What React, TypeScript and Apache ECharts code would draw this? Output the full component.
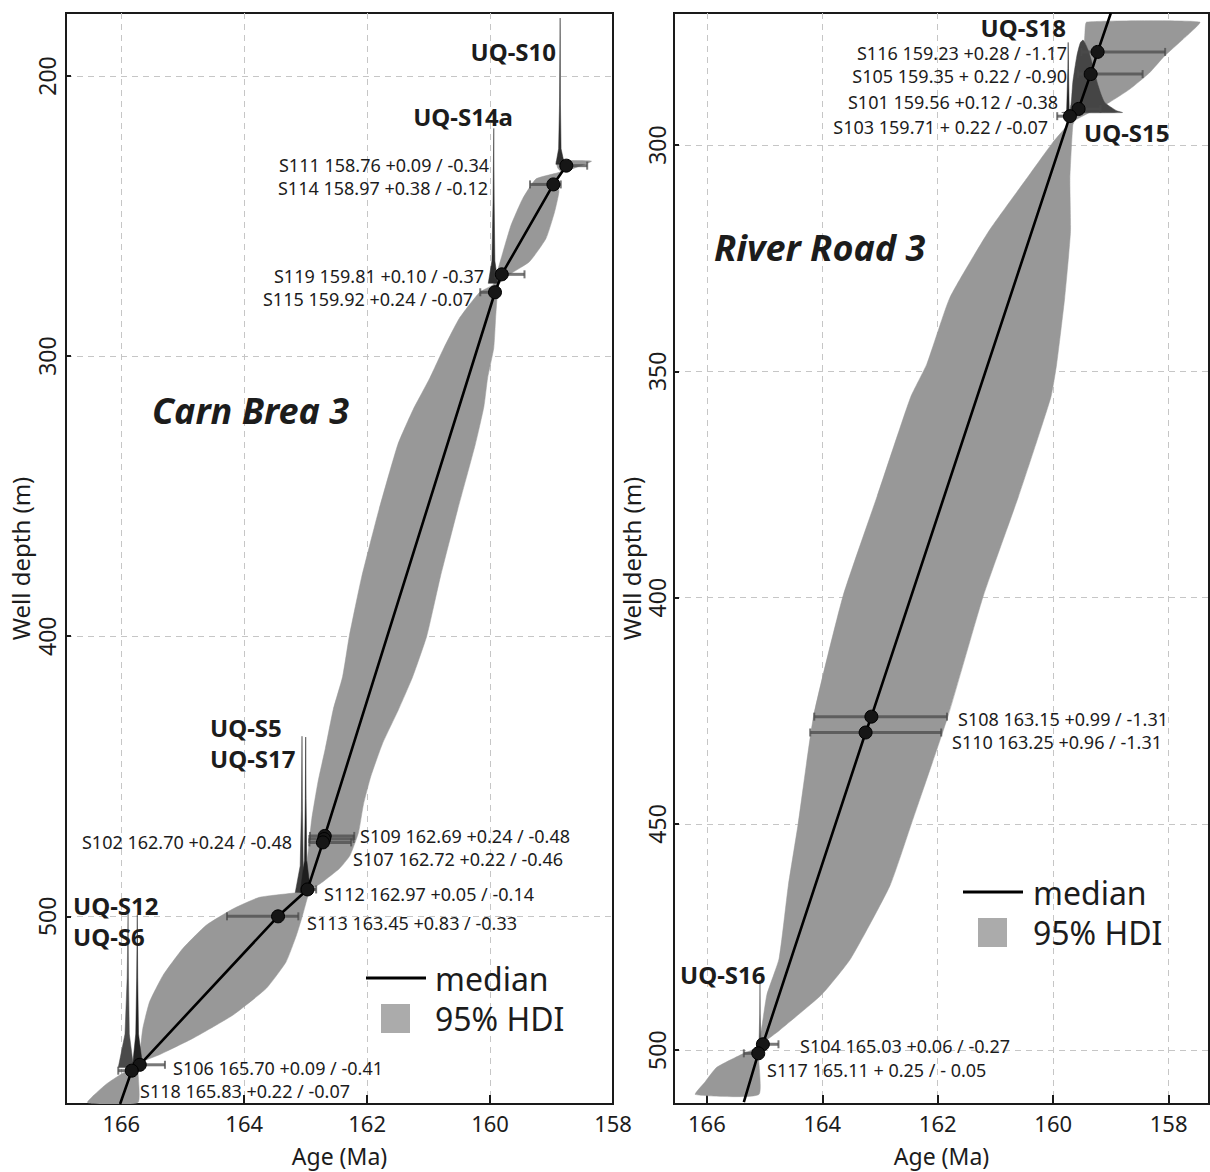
import React, { useEffect, useRef } from 'react';
import * as echarts from 'echarts';

const FONT = '"Noto Sans", "Open Sans", sans-serif';
const TEXT = '#1c1c1c';

// ---------------- Carn Brea 3 ----------------
const cbSampleAge = [158.76, 158.97, 159.81, 159.92, 162.69, 162.70, 162.72, 162.97, 163.45, 165.70, 165.83];
const cbSamplePlus = [0.09, 0.38, 0.10, 0.24, 0.24, 0.24, 0.22, 0.05, 0.83, 0.09, 0.22];
const cbSampleMinus = [0.34, 0.12, 0.37, 0.07, 0.48, 0.48, 0.46, 0.14, 0.33, 0.41, 0.07];
const cbSampleDepth = [232.0, 238.7, 270.8, 277.2, 471.3, 472.4, 473.6, 490.4, 500.0, 553.0, 555.1];

const cbMedian = [
  [158.76, 232.0], [158.97, 238.7], [159.81, 270.8], [159.92, 277.2], [162.69, 471.3], [162.72, 473.6],
  [162.97, 490.4], [163.45, 500.0], [165.70, 553.0], [165.83, 555.1], [166.02, 567.0],
];

// young (right) edge of the 95% HDI, top to bottom
const cbHdiYoung = [
  [158.35, 230.4], [158.62, 232.8], [158.80, 234.2], [158.90, 236.0], [158.88, 241.4], [158.95, 248.5],
  [159.09, 258.0], [159.36, 266.3], [159.74, 271.6], [159.86, 274.5], [159.88, 277.2], [159.91, 286.5],
  [159.94, 297.1], [160.04, 307.8], [160.10, 318.0], [160.24, 331.5], [160.53, 355.0], [160.81, 378.9],
  [161.03, 399.9], [161.26, 414.5], [161.49, 426.2], [161.75, 438.3], [161.94, 450.0], [162.06, 460.0],
  [162.14, 470.0], [162.28, 478.3], [162.45, 482.9], [162.73, 487.8], [162.90, 490.3], [162.96, 492.5],
  [163.05, 499.6], [163.15, 506.7], [163.32, 516.3], [163.64, 525.7], [164.18, 535.2], [164.83, 543.5],
  [165.38, 549.4], [165.65, 551.8], [165.72, 553.5], [165.73, 554.8], [165.73, 566.5],
];
// old (left) edge of the 95% HDI, top to bottom
const cbHdiOld = [
  [158.92, 230.4], [158.90, 232.8], [158.85, 234.2], [159.25, 236.7], [159.47, 243.8], [159.66, 253.3],
  [159.79, 262.8], [159.90, 271.1], [159.95, 274.5], [160.17, 277.2], [160.50, 286.5], [160.75, 297.0],
  [160.98, 307.8], [161.25, 319.0], [161.50, 331.5], [161.81, 355.0], [162.09, 378.9], [162.29, 399.9],
  [162.40, 414.5], [162.55, 426.0], [162.68, 440.0], [162.80, 452.0], [162.90, 465.0], [162.95, 475.0],
  [163.00, 485.0], [163.05, 490.5], [163.10, 491.4], [163.75, 493.2], [164.18, 497.3], [164.62, 503.2],
  [165.00, 511.5], [165.32, 521.0], [165.54, 530.5], [165.65, 540.0], [165.70, 549.4], [165.73, 553.5],
  [165.99, 556.2], [166.25, 560.0], [166.55, 566.5],
];

// sample age densities (dark spikes)
const cbDensityS10 = [[158.93, 231.5], [158.885, 226], [158.87, 210], [158.86, 179.3], [158.855, 210], [158.845, 226], [158.79, 231.5]];
const cbDensityS14a = [[160.03, 274], [159.97, 266], [159.952, 245], [159.94, 218.7], [159.933, 245], [159.922, 266], [159.87, 274]];
const cbDensityS5 = [[163.17, 491.5], [163.09, 482], [163.07, 462], [163.06, 435.7], [163.053, 462], [163.04, 482], [162.98, 491.5]];
const cbDensityS17 = [[163.09, 491.5], [163.02, 480], [163.006, 458], [163.0, 436], [162.994, 458], [162.983, 480], [162.92, 491.5]];
const cbDensityS12 = [[166.05, 554], [165.94, 542], [165.905, 522], [165.89, 499], [165.883, 522], [165.87, 542], [165.8, 554]];
const cbDensityS6 = [[165.82, 554], [165.765, 542], [165.75, 522], [165.74, 499.5], [165.733, 522], [165.72, 542], [165.65, 554]];

// ---------------- River Road 3 ----------------
const rrSampleAge = [159.23, 159.35, 159.56, 159.71, 163.15, 163.25, 165.03, 165.11];
const rrSamplePlus = [0.28, 0.22, 0.12, 0.22, 0.99, 0.96, 0.06, 0.25];
const rrSampleMinus = [1.17, 0.90, 0.38, 0.07, 1.31, 1.31, 0.27, 0.05];
const rrSampleDepth = [279.4, 284.3, 292.0, 293.6, 426.3, 429.8, 498.7, 500.7];

const rrMedian = [
  [159.0, 270.8], [159.23, 279.4], [159.35, 284.3], [159.56, 292.0], [159.71, 293.6], [163.15, 426.3],
  [163.25, 429.8], [165.03, 498.7], [165.11, 500.7], [165.36, 511.5],
];

const rrHdiYoung = [
  [157.46, 272.8], [157.75, 276.6], [158.07, 280.3], [158.33, 284.0], [158.67, 287.6], [159.02, 290.5],
  [159.31, 292.4], [159.62, 294.5], [159.66, 295.6], [159.71, 307.4], [159.70, 319.1], [159.80, 333.7],
  [159.94, 348.4], [160.04, 355.7], [160.60, 377.6], [161.21, 399.6], [161.82, 426.1], [162.46, 450.1],
  [162.83, 463.7], [163.51, 479.8], [164.01, 487.7], [164.75, 495.7], [165.10, 499.5], [165.10, 509.8],
];
const rrHdiOld = [
  [159.42, 272.8], [159.45, 275.2], [159.48, 282.5], [159.54, 289.1], [159.66, 292.7], [159.71, 294.9],
  [160.00, 299.3], [160.46, 307.4], [161.12, 319.1], [161.79, 333.7], [162.19, 348.4], [162.47, 355.7],
  [163.05, 377.6], [163.64, 399.6], [164.15, 426.1], [164.42, 450.1], [164.59, 463.7], [164.75, 479.8],
  [164.96, 487.7], [165.06, 495.7], [165.15, 499.5], [165.36, 500.7], [165.83, 503.8], [166.03, 507.0],
  [166.20, 509.8],
];

const rrDensityS18 = [
  [159.85, 292.8], [159.71, 292.4], [159.66, 286.1], [159.59, 280.3], [159.53, 277.4], [159.48, 276.8],
  [159.40, 278.8], [159.31, 282.5], [159.22, 286.9], [159.11, 290.5], [158.90, 292.4], [158.80, 292.8],
];
const rrDensityS15 = [[159.77, 293.8], [159.745, 283], [159.74, 277.3], [159.735, 283], [159.72, 293.8]];
const rrDensityS16 = [[165.10, 500.5], [165.085, 492], [165.08, 484.5], [165.075, 492], [165.06, 500.5]];

// ---------------- annotations ----------------
const cbNotes = [
  { t: 'UQ-S10', x: 556, y: 51, a: 'right', k: 'tag' },
  { t: 'UQ-S14a', x: 513, y: 116, a: 'right', k: 'tag' },
  { t: 'S111 158.76 +0.09 / -0.34', x: 489, y: 165, a: 'right', k: 's' },
  { t: 'S114 158.97 +0.38 / -0.12', x: 488, y: 187.5, a: 'right', k: 's' },
  { t: 'S119 159.81 +0.10 / -0.37', x: 484, y: 276, a: 'right', k: 's' },
  { t: 'S115 159.92 +0.24 / -0.07', x: 473, y: 299, a: 'right', k: 's' },
  { t: 'Carn Brea 3', x: 152, y: 410, a: 'left', k: 'title' },
  { t: 'UQ-S5', x: 210, y: 727, a: 'left', k: 'tag' },
  { t: 'UQ-S17', x: 210, y: 758, a: 'left', k: 'tag' },
  { t: 'S102 162.70 +0.24 / -0.48', x: 292, y: 842, a: 'right', k: 's' },
  { t: 'S109 162.69 +0.24 / -0.48', x: 360, y: 836, a: 'left', k: 's' },
  { t: 'S107 162.72 +0.22 / -0.46', x: 353, y: 858.5, a: 'left', k: 's' },
  { t: 'S112 162.97 +0.05 / -0.14', x: 324, y: 894, a: 'left', k: 's' },
  { t: 'S113 163.45 +0.83 / -0.33', x: 307, y: 922.5, a: 'left', k: 's' },
  { t: 'UQ-S12', x: 73, y: 905, a: 'left', k: 'tag' },
  { t: 'UQ-S6', x: 73, y: 936, a: 'left', k: 'tag' },
  { t: 'S106 165.70 +0.09 / -0.41', x: 173, y: 1068, a: 'left', k: 's' },
  { t: 'S118 165.83 +0.22 / -0.07', x: 140, y: 1090.5, a: 'left', k: 's' },
];
const rrNotes = [
  { t: 'UQ-S18', x: 1066, y: 27, a: 'right', k: 'tag' },
  { t: 'S116 159.23 +0.28 / -1.17', x: 1067, y: 53, a: 'right', k: 's' },
  { t: 'S105 159.35 + 0.22 / -0.90', x: 1067, y: 75.5, a: 'right', k: 's' },
  { t: 'S101 159.56 +0.12 / -0.38', x: 1058, y: 102, a: 'right', k: 's' },
  { t: 'S103 159.71 + 0.22 / -0.07', x: 1048, y: 127, a: 'right', k: 's' },
  { t: 'UQ-S15', x: 1084, y: 132, a: 'left', k: 'tag' },
  { t: 'River Road 3', x: 714, y: 247, a: 'left', k: 'title' },
  { t: 'S108 163.15 +0.99 / -1.31', x: 958, y: 719, a: 'left', k: 's' },
  { t: 'S110 163.25 +0.96 / -1.31', x: 952, y: 741.5, a: 'left', k: 's' },
  { t: 'UQ-S16', x: 680, y: 974, a: 'left', k: 'tag' },
  { t: 'S104 165.03 +0.06 / -0.27', x: 800, y: 1046, a: 'left', k: 's' },
  { t: 'S117 165.11 + 0.25 / - 0.05', x: 767, y: 1070, a: 'left', k: 's' },
];
const legendSpots = [
  { lineX: 366, lineY: 978, patchX: 381, patchY: 1004, textX: 435 },
  { lineX: 963, lineY: 892, patchX: 978, patchY: 918, textX: 1033 },
];

const FONTS: Record<string, string> = {
  tag: `bold 24px ${FONT}`,
  s: `18px ${FONT}`,
  title: `italic bold 36px ${FONT}`,
};

function polygonSeries(gi: number, pts: number[][], color: string, z: number, smooth = 0) {
  return {
    type: 'custom',
    xAxisIndex: gi,
    yAxisIndex: gi,
    silent: true,
    clip: true,
    z,
    data: [0],
    renderItem: (_p: any, api: any) => ({
      type: 'polygon',
      shape: { points: pts.map((p) => api.coord(p)), smooth },
      style: { fill: color, stroke: color, lineWidth: 0.5 },
    }),
  };
}

function bandSeries(gi: number, young: number[][], old: number[][]) {
  return polygonSeries(gi, [...young, ...old.slice().reverse()], '#989898', 1, 0.15);
}

function errorBarSeries(gi: number, ages: number[], plus: number[], minus: number[], depths: number[]) {
  const data = ages.map((a, i) => [a + plus[i], a - minus[i], depths[i]]);
  const col = 'rgba(75,75,75,0.75)';
  return {
    type: 'custom',
    xAxisIndex: gi,
    yAxisIndex: gi,
    silent: true,
    z: 4,
    data,
    encode: { x: [0, 1], y: 2 },
    renderItem: (_p: any, api: any) => {
      const a = api.coord([api.value(0), api.value(2)]);
      const b = api.coord([api.value(1), api.value(2)]);
      const c = 4;
      return {
        type: 'group',
        children: [
          { type: 'line', shape: { x1: a[0], y1: a[1], x2: b[0], y2: b[1] }, style: { stroke: col, lineWidth: 3 } },
          { type: 'line', shape: { x1: a[0], y1: a[1] - c, x2: a[0], y2: a[1] + c }, style: { stroke: col, lineWidth: 2 } },
          { type: 'line', shape: { x1: b[0], y1: b[1] - c, x2: b[0], y2: b[1] + c }, style: { stroke: col, lineWidth: 2 } },
        ],
      };
    },
  };
}

const splitLine = { show: true, showMinLine: false, showMaxLine: false, lineStyle: { color: '#c6c6c6', type: [6, 5], width: 1 } };

function xAxis(gi: number, extra: any) {
  return {
    gridIndex: gi,
    type: 'value',
    inverse: true,
    name: 'Age (Ma)',
    nameLocation: 'middle',
    nameGap: 40,
    nameTextStyle: { fontSize: 23, color: TEXT, fontFamily: FONT },
    axisLine: { show: true, onZero: false, lineStyle: { color: '#1a1a1a', width: 2 } },
    axisTick: { show: true, inside: true, length: 9, lineStyle: { color: '#1a1a1a', width: 2 } },
    splitLine,
    ...extra,
  };
}

function yAxis(gi: number, extra: any) {
  return {
    gridIndex: gi,
    type: 'value',
    inverse: true,
    name: 'Well depth (m)',
    nameLocation: 'middle',
    nameRotate: 90,
    nameGap: 34,
    nameTextStyle: { fontSize: 24, color: TEXT, fontFamily: FONT },
    axisLine: { show: true, onZero: false, lineStyle: { color: '#1a1a1a', width: 2 } },
    axisTick: { show: true, inside: true, length: 5, lineStyle: { color: '#1a1a1a', width: 2 } },
    splitLine,
    ...extra,
  };
}

function noteGraphics() {
  const out: any[] = [];
  [...cbNotes, ...rrNotes].forEach((n) => {
    out.push({
      type: 'text',
      x: n.x,
      y: n.y,
      z: 100,
      style: { text: n.t, font: FONTS[n.k], fill: TEXT, textAlign: n.a, textVerticalAlign: 'middle' },
    });
  });
  legendSpots.forEach((l) => {
    out.push({ type: 'line', z: 100, shape: { x1: l.lineX, y1: l.lineY, x2: l.lineX + 60, y2: l.lineY }, style: { stroke: '#000', lineWidth: 3 } });
    out.push({ type: 'text', z: 100, x: l.textX, y: l.lineY, style: { text: 'median', font: `32px ${FONT}`, fill: TEXT, textAlign: 'left', textVerticalAlign: 'middle' } });
    out.push({ type: 'rect', z: 100, shape: { x: l.patchX, y: l.patchY, width: 29, height: 29 }, style: { fill: '#ababab' } });
    out.push({ type: 'text', z: 100, x: l.textX, y: l.patchY + 14, style: { text: '95% HDI', font: `32px ${FONT}`, fill: TEXT, textAlign: 'left', textVerticalAlign: 'middle' } });
  });
  return out;
}

function medianSeries(gi: number, pts: number[][]) {
  return {
    type: 'line',
    xAxisIndex: gi,
    yAxisIndex: gi,
    data: pts,
    showSymbol: false,
    silent: true,
    clip: true,
    z: 3,
    lineStyle: { color: '#000', width: 2.6 },
  };
}

function dotSeries(gi: number, ages: number[], depths: number[]) {
  return {
    type: 'scatter',
    xAxisIndex: gi,
    yAxisIndex: gi,
    data: ages.map((a, i) => [a, depths[i]]),
    symbolSize: 13,
    silent: true,
    z: 5,
    itemStyle: { color: '#161616', borderColor: '#000', borderWidth: 1, opacity: 1 },
  };
}

export default function App() {
  const ref = useRef<HTMLDivElement>(null);
  useEffect(() => {
    if (!ref.current) return;
    const chart = echarts.init(ref.current, null, { renderer: 'svg' });
    const labelCommon = { fontSize: 22, color: TEXT, fontFamily: FONT };
    chart.setOption({
      animation: false,
      backgroundColor: '#fff',
      grid: [
        { left: 66, top: 13, width: 547, height: 1097, show: true, borderColor: '#1a1a1a', borderWidth: 2, backgroundColor: 'transparent' },
        { left: 674, top: 13, width: 535, height: 1098, show: true, borderColor: '#1a1a1a', borderWidth: 2, backgroundColor: 'transparent' },
      ],
      xAxis: [
        xAxis(0, { min: 158, max: 166.9, interval: 2, axisLabel: { ...labelCommon, margin: 8, showMaxLabel: false } }),
        xAxis(1, { min: 157.3, max: 166.57, splitNumber: 5, axisLabel: { ...labelCommon, margin: 8, showMinLabel: false, showMaxLabel: false } }),
      ],
      yAxis: [
        yAxis(0, { min: 177.5, max: 567, splitNumber: 4, axisLabel: { ...labelCommon, fontSize: 23, rotate: 90, margin: 8, showMinLabel: false, showMaxLabel: false } }),
        yAxis(1, { min: 270.8, max: 511.9, splitNumber: 5, nameGap: 31, axisLabel: { ...labelCommon, fontSize: 23, rotate: 90, margin: 6, showMinLabel: false, showMaxLabel: false } }),
      ],
      series: [
        bandSeries(0, cbHdiYoung, cbHdiOld),
        polygonSeries(0, cbDensityS10, '#2e2e2e', 2),
        polygonSeries(0, cbDensityS14a, '#2e2e2e', 2),
        polygonSeries(0, cbDensityS5, '#3a3a3a', 2),
        polygonSeries(0, cbDensityS17, '#1e1e1e', 2),
        polygonSeries(0, cbDensityS12, '#4a4a4a', 2),
        polygonSeries(0, cbDensityS6, '#222222', 2),
        medianSeries(0, cbMedian),
        errorBarSeries(0, cbSampleAge, cbSamplePlus, cbSampleMinus, cbSampleDepth),
        dotSeries(0, cbSampleAge, cbSampleDepth),

        bandSeries(1, rrHdiYoung, rrHdiOld),
        polygonSeries(1, rrDensityS18, '#454545', 2, 0.2),
        polygonSeries(1, rrDensityS15, '#222222', 2),
        polygonSeries(1, rrDensityS16, '#555555', 2),
        medianSeries(1, rrMedian),
        errorBarSeries(1, rrSampleAge, rrSamplePlus, rrSampleMinus, rrSampleDepth),
        dotSeries(1, rrSampleAge, rrSampleDepth),
      ],
      graphic: noteGraphics(),
    });
    return () => chart.dispose();
  }, []);
  return <div ref={ref} style={{ position: 'absolute', left: 0, top: 0, width: 1210, height: 1172 }} />;
}
